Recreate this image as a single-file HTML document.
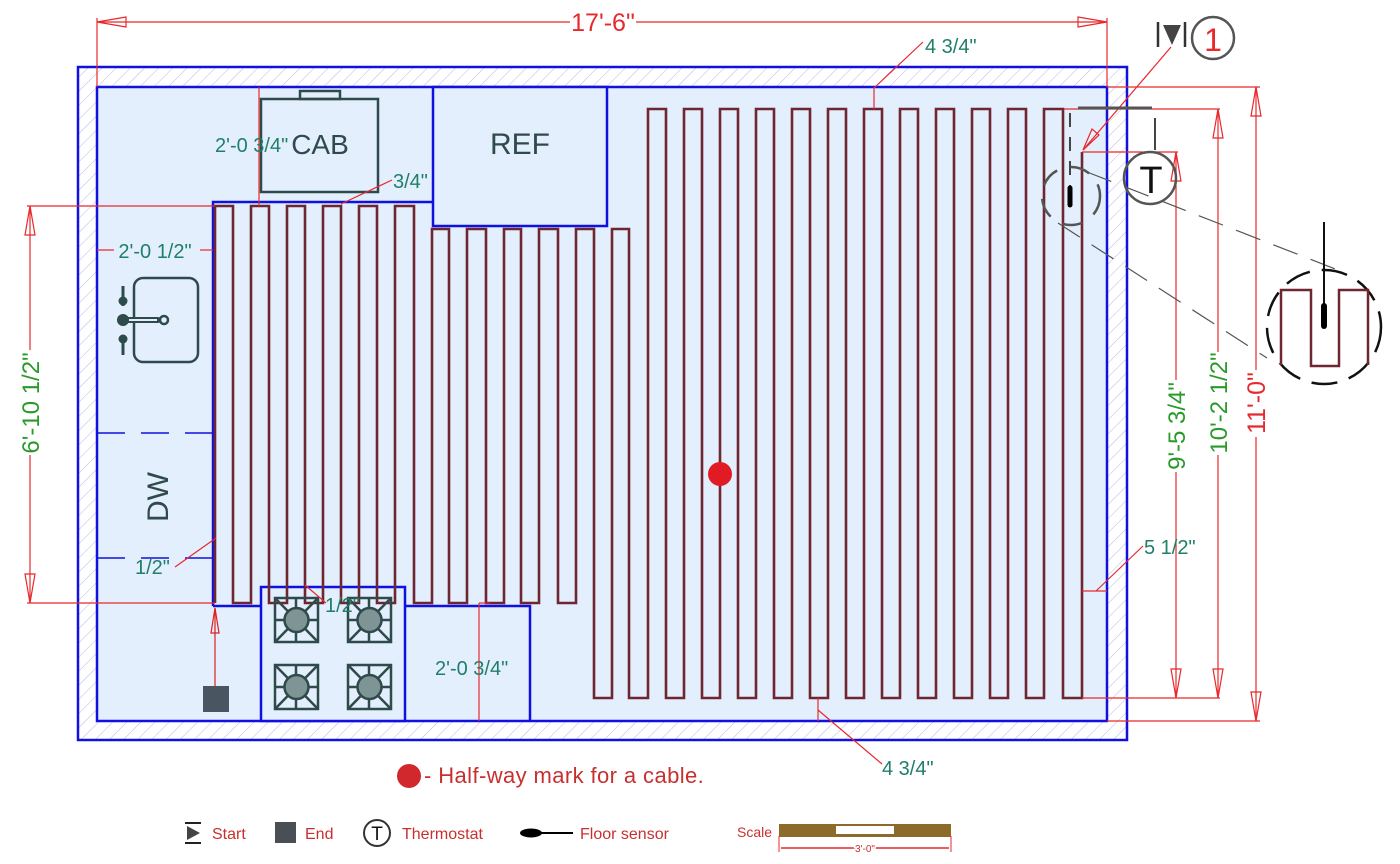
<!DOCTYPE html>
<html><head><meta charset="utf-8"><style>
html,body{margin:0;padding:0;background:#fff;}
svg{display:block;}
text{font-family:"Liberation Sans",sans-serif;}
</style></head><body>
<svg width="1400" height="864" viewBox="0 0 1400 864" xmlns="http://www.w3.org/2000/svg">
<defs>
<pattern id="h" width="10" height="10" patternUnits="userSpaceOnUse" patternTransform="rotate(45)">
<line x1="0" y1="0" x2="0" y2="10" stroke="#b8b8ec" stroke-width="1"/>
</pattern>
</defs>
<rect x="78" y="67" width="1049" height="673" fill="url(#h)" stroke="#1010e0" stroke-width="2.5"/>
<rect x="97" y="87" width="1010" height="634" fill="#e3effc" stroke="#1010e0" stroke-width="2.5"/>
<polyline points="213,606 213,202 433,202" fill="none" stroke="#1010e0" stroke-width="2.5"/>
<rect x="433" y="87" width="174" height="139" fill="#e3effc" stroke="#1010e0" stroke-width="2.5"/>
<polyline points="213,606 261,606" fill="none" stroke="#1010e0" stroke-width="2.5"/>
<rect x="261" y="587" width="144" height="134" fill="#e3effc" stroke="#1010e0" stroke-width="2.5"/>
<polyline points="405,606 530,606 530,721" fill="none" stroke="#1010e0" stroke-width="2.5"/>
<line x1="97" y1="433" x2="213" y2="433" stroke="#1010e0" stroke-width="1.5" stroke-dasharray="28,16"/>
<line x1="97" y1="558" x2="213" y2="558" stroke="#1010e0" stroke-width="1.5" stroke-dasharray="28,16"/>
<path d="M215,603 V206 H233 V603 H251 V206 H269 V603 H287 V206 H305 V603 H323 V206 H341 V603 H359 V206 H377 V603 H395 V206 H414 V603 H432 V229 H449 V603 H467 V229 H486 V603 H504 V229 H521 V603 H539 V229 H558 V603 H576 V229 H594 V698 H612 V229 H629 V698 H648 V109 H666 V698 H684 V109 H702 V698 H720 V109 H738 V698 H756 V109 H774 V698 H792 V109 H810 V698 H828 V109 H846 V698 H864 V109 H882 V698 H900 V109 H918 V698 H936 V109 H954 V698 H972 V109 H990 V698 H1008 V109 H1026 V698 H1044 V109 H1063 V698 H1082 V152" fill="none" stroke="#6e2630" stroke-width="2.6"/>
<rect x="300" y="91" width="40" height="8" fill="none" stroke="#2f4a4a" stroke-width="2.5"/>
<rect x="261" y="99" width="117" height="93" fill="none" stroke="#2f4a4a" stroke-width="2.5"/>
<text x="320" y="154" font-size="28" fill="#2f4a4a" text-anchor="middle">CAB</text>
<text x="520" y="154" font-size="30" fill="#2f4a4a" text-anchor="middle">REF</text>
<text x="0" y="0" font-size="30" fill="#2f4a4a" text-anchor="middle" transform="translate(168,497) rotate(-90)">DW</text>
<rect x="134" y="278" width="64" height="84" rx="9" fill="none" stroke="#2f4a4a" stroke-width="2.5"/>
<line x1="123" y1="320" x2="158" y2="320" stroke="#2f4a4a" stroke-width="6" stroke-linecap="round"/>
<line x1="125" y1="320" x2="157" y2="320" stroke="#e3effc" stroke-width="2"/>
<circle cx="123" cy="320" r="6" fill="#2f4a4a"/>
<circle cx="164" cy="320" r="4" fill="none" stroke="#2f4a4a" stroke-width="2.5"/>
<line x1="123" y1="286" x2="123" y2="306" stroke="#2f4a4a" stroke-width="3"/>
<circle cx="123" cy="301" r="4.5" fill="#2f4a4a"/>
<circle cx="123" cy="339" r="4.5" fill="#2f4a4a"/>
<line x1="123" y1="339" x2="123" y2="355" stroke="#2f4a4a" stroke-width="3"/>
<g stroke="#2f4a4a" stroke-width="2.5" fill="none">
<g id="b"><rect x="275" y="598" width="43" height="44"/><line x1="275" y1="598" x2="318" y2="642"/><line x1="318" y1="598" x2="275" y2="642"/><line x1="296" y1="598" x2="296" y2="642"/><line x1="275" y1="620" x2="318" y2="620"/><circle cx="296.5" cy="620" r="12" fill="#7f9494"/></g>
<use href="#b" x="73" y="0"/><use href="#b" x="0" y="67"/><use href="#b" x="73" y="67"/>
</g>
<rect x="203" y="686" width="26" height="26" fill="#4a5562"/>
<line x1="215" y1="686" x2="215" y2="608" stroke="#e02020" stroke-width="1.2"/>
<path d="M215,608 L211,633 L219,633 Z" fill="none" stroke="#e02020" stroke-width="1.2"/>
<circle cx="720" cy="474" r="12" fill="#e01b24"/>
<g stroke="#e8282c" stroke-width="1.2" fill="none">
<line x1="97" y1="18" x2="97" y2="87"/><line x1="1107" y1="18" x2="1107" y2="87"/>
<line x1="97" y1="22" x2="570" y2="22"/><line x1="636" y1="22" x2="1107" y2="22"/>
<path d="M97,22 L126,17 L126,27 Z"/><path d="M1107,22 L1078,17 L1078,27 Z"/>
<line x1="1107" y1="87" x2="1260" y2="87"/><line x1="1107" y1="721" x2="1260" y2="721"/>
<line x1="1256" y1="87" x2="1256" y2="370"/><line x1="1256" y1="437" x2="1256" y2="721"/>
<path d="M1256,87 L1251,116 L1261,116 Z"/><path d="M1256,721 L1251,692 L1261,692 Z"/>
<line x1="1064" y1="109" x2="1220" y2="109"/><line x1="1082" y1="698" x2="1220" y2="698"/>
<line x1="1218" y1="109" x2="1218" y2="352"/><line x1="1218" y1="455" x2="1218" y2="698"/>
<path d="M1218,109 L1213,138 L1223,138 Z"/><path d="M1218,698 L1213,669 L1223,669 Z"/>
<line x1="1082" y1="152" x2="1178" y2="152"/>
<line x1="1176" y1="152" x2="1176" y2="380"/><line x1="1176" y1="472" x2="1176" y2="698"/>
<path d="M1176,152 L1171,181 L1181,181 Z"/><path d="M1176,698 L1171,669 L1181,669 Z"/>
<line x1="27" y1="206" x2="215" y2="206"/><line x1="27" y1="603" x2="215" y2="603"/>
<line x1="30" y1="206" x2="30" y2="350"/><line x1="30" y1="455" x2="30" y2="603"/>
<path d="M30,206 L25,235 L35,235 Z"/><path d="M30,603 L25,574 L35,574 Z"/>
<line x1="874" y1="87" x2="874" y2="109"/><line x1="874" y1="88" x2="923" y2="42"/>
<line x1="341" y1="204" x2="392" y2="180"/>
<line x1="259" y1="87" x2="259" y2="206"/>
<line x1="97" y1="250" x2="114" y2="250"/><line x1="200" y1="250" x2="213" y2="250"/>
<line x1="216" y1="538" x2="175" y2="567"/>
<line x1="305" y1="585" x2="326" y2="603"/>
<line x1="479" y1="603" x2="479" y2="721"/><line x1="479" y1="603" x2="490" y2="603"/>
<line x1="818" y1="698" x2="818" y2="721"/><line x1="818" y1="710" x2="882" y2="764"/>
<line x1="1082" y1="591" x2="1107" y2="591"/><line x1="1096" y1="591" x2="1143" y2="546"/>
<line x1="1171" y1="47" x2="1083" y2="150"/><path d="M1083,150 L1092,129 L1099,135 Z"/>
</g>
<text x="603" y="31" font-size="25" fill="#e8282c" text-anchor="middle">17'-6"</text>
<text x="0" y="0" font-size="25" fill="#e8282c" text-anchor="middle" transform="translate(1265,403) rotate(-90)">11'-0"</text>
<text x="0" y="0" font-size="24" fill="#2a9a2a" text-anchor="middle" transform="translate(1227,403) rotate(-90)">10'-2 1/2"</text>
<text x="0" y="0" font-size="24" fill="#2a9a2a" text-anchor="middle" transform="translate(1185,426) rotate(-90)">9'-5 3/4"</text>
<text x="0" y="0" font-size="24" fill="#2a9a2a" text-anchor="middle" transform="translate(39,403) rotate(-90)">6'-10 1/2"</text>
<g font-size="20" fill="#1f7f68">
<text x="925" y="53">4 3/4"</text>
<text x="393" y="188">3/4"</text>
<text x="215" y="152">2'-0 3/4"</text>
<text x="155" y="258" text-anchor="middle">2'-0 1/2"</text>
<text x="135" y="574">1/2"</text>
<text x="325" y="612">1/2"</text>
<text x="435" y="675">2'-0 3/4"</text>
<text x="882" y="775">4 3/4"</text>
<text x="1144" y="554">5 1/2"</text>
</g>
<line x1="1070" y1="113" x2="1070" y2="188" stroke="#444" stroke-width="2" stroke-dasharray="14,10"/>
<circle cx="1071" cy="196" r="29" fill="none" stroke="#555" stroke-width="2.5" stroke-dasharray="20,14"/>
<line x1="1070" y1="188" x2="1070" y2="205" stroke="#000" stroke-width="5" stroke-linecap="round"/>
<line x1="1078" y1="108" x2="1152" y2="108" stroke="#555" stroke-width="3"/>
<line x1="1155" y1="118" x2="1155" y2="150" stroke="#444" stroke-width="2"/>
<circle cx="1150" cy="178" r="26" fill="none" stroke="#555" stroke-width="2.5"/>
<text x="1151" y="193" font-size="38" fill="#111" text-anchor="middle">T</text>
<line x1="1087" y1="172" x2="1343" y2="272" stroke="#555" stroke-width="1.2" stroke-dasharray="26,14"/>
<line x1="1058" y1="223" x2="1267" y2="358" stroke="#555" stroke-width="1.2" stroke-dasharray="26,14"/>
<circle cx="1324" cy="327" r="57" fill="none" stroke="#111" stroke-width="2.5" stroke-dasharray="26,12"/>
<path d="M1281,365 V290 H1311 V366 H1339 V290 H1368 V365" fill="none" stroke="#6e2630" stroke-width="2.5"/>
<line x1="1324" y1="222" x2="1324" y2="305" stroke="#111" stroke-width="2"/>
<line x1="1324" y1="306" x2="1324" y2="326" stroke="#000" stroke-width="6" stroke-linecap="round"/>
<line x1="1158" y1="22" x2="1158" y2="47" stroke="#333" stroke-width="2.5"/>
<line x1="1185" y1="22" x2="1185" y2="47" stroke="#333" stroke-width="2.5"/>
<path d="M1163,25 L1181,25 L1172,45 Z" fill="#444"/>
<circle cx="1213" cy="38" r="21" fill="none" stroke="#555" stroke-width="2.5"/>
<text x="1213" y="51" font-size="32" fill="#e8282c" text-anchor="middle">1</text>
<circle cx="409" cy="776" r="12" fill="#d0282c"/>
<text x="424" y="783" font-size="22" fill="#c8302f" letter-spacing="0.4">- Half-way mark for a cable.</text>
<line x1="185" y1="823" x2="201" y2="823" stroke="#222" stroke-width="2"/>
<line x1="185" y1="843" x2="201" y2="843" stroke="#222" stroke-width="2"/>
<path d="M187,826 L200,833 L187,840 Z" fill="#444"/>
<text x="212" y="839" font-size="16" fill="#c8302f">Start</text>
<rect x="275" y="822" width="21" height="21" fill="#4a4f55"/>
<text x="305" y="839" font-size="16" fill="#c8302f">End</text>
<circle cx="377" cy="833" r="13" fill="none" stroke="#333" stroke-width="2"/>
<text x="377" y="840" font-size="19" fill="#111" text-anchor="middle">T</text>
<text x="402" y="839" font-size="16" fill="#c8302f">Thermostat</text>
<ellipse cx="531" cy="833" rx="11" ry="4.5" fill="#000"/>
<line x1="531" y1="833" x2="573" y2="833" stroke="#000" stroke-width="2"/>
<text x="580" y="839" font-size="16" fill="#c8302f">Floor sensor</text>
<text x="737" y="837" font-size="14" fill="#c8302f">Scale</text>
<rect x="779" y="824" width="172" height="13" fill="#8b6a2a"/>
<rect x="836" y="826" width="58" height="8" fill="#fff"/>
<line x1="779" y1="836" x2="779" y2="852" stroke="#e8282c" stroke-width="1"/>
<line x1="951" y1="836" x2="951" y2="852" stroke="#e8282c" stroke-width="1"/>
<line x1="781" y1="848" x2="949" y2="848" stroke="#e8282c" stroke-width="1.5"/>
<text x="865" y="852" font-size="10" fill="#c8302f" text-anchor="middle" stroke="#fff" stroke-width="3" paint-order="stroke">3'-0"</text>
</svg>
</body></html>
